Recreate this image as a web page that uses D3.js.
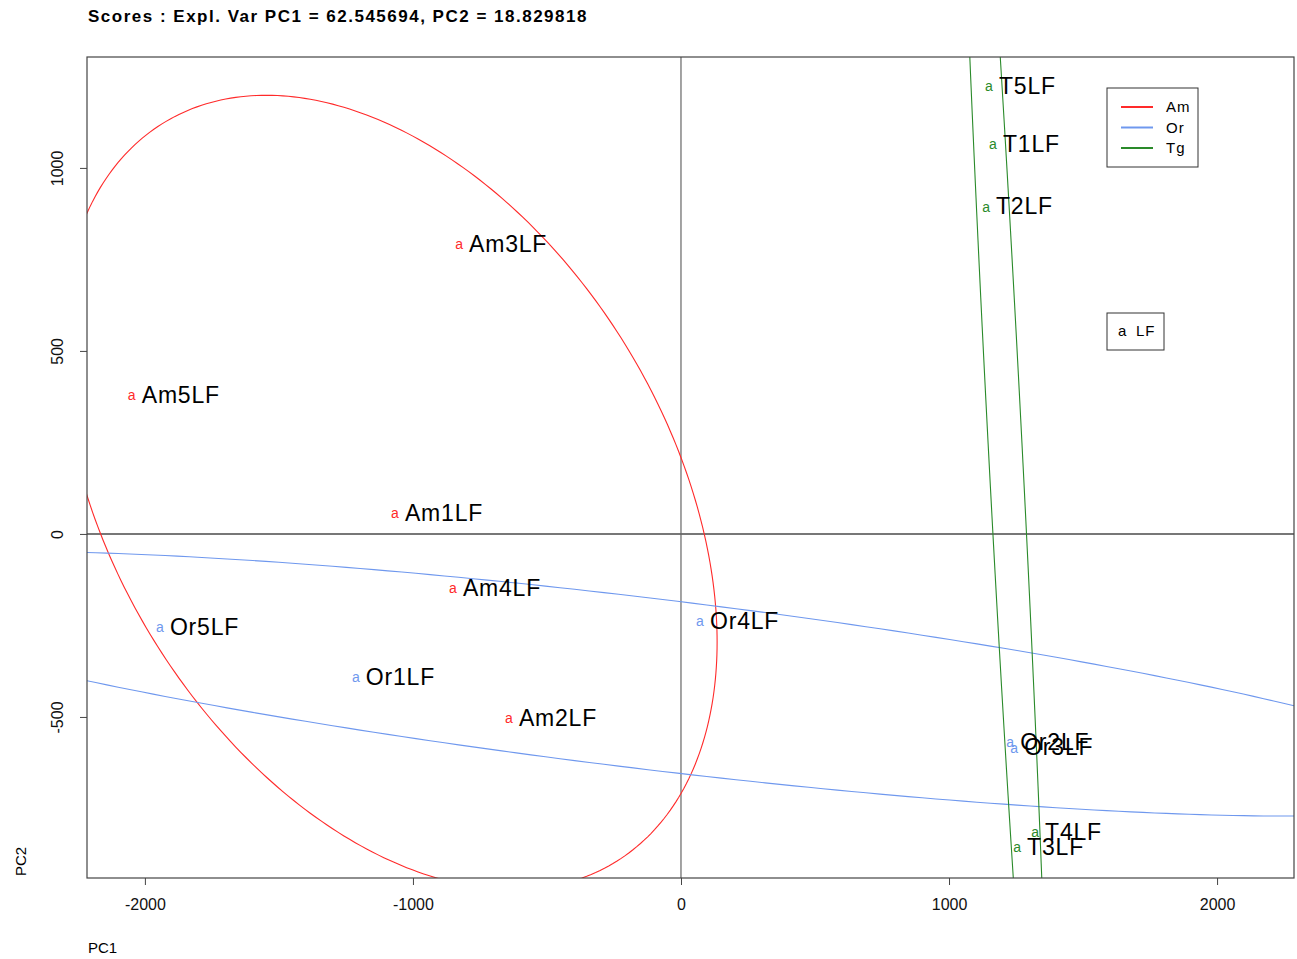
<!DOCTYPE html>
<html>
<head>
<meta charset="utf-8">
<script src="https://cdn.jsdelivr.net/npm/d3@7"></script>
<style>
  body { margin: 0; background: #fff; }
  text { font-family: "Liberation Sans", Arial, sans-serif; }
</style>
</head>
<body>
<div id="chart"></div>
<script>
// scores
const samples = ["Am1LF", "Am2LF", "Am3LF", "Am4LF", "Am5LF",
                 "Or1LF", "Or2LF", "Or3LF", "Or4LF", "Or5LF",
                 "T1LF", "T2LF", "T3LF", "T4LF", "T5LF"];
const groups = ["Am", "Am", "Am", "Am", "Am",
                "Or", "Or", "Or", "Or", "Or",
                "Tg", "Tg", "Tg", "Tg", "Tg"];
const pc1 = [-1067, -642, -828, -851, -2049,
             -1213, 1228, 1243, 71, -1944,
             1164, 1138, 1254, 1321, 1149];
const pc2 = [55, -505, 790, -150, 377,
             -393, -571, -585, -240, -257,
             1063, 893, -858, -817, 1221];
const groupNames = ["Am", "Or", "Tg"];
const groupColors = ["#ff2a2a", "#6f98ee", "#2a8a2a"];
const xTicks = [-2000, -1000, 0, 1000, 2000];
const yTicks = [-500, 0, 500, 1000];
const title = "Scores : Expl. Var PC1 = 62.545694, PC2 = 18.829818";

var W = 1297, H = 959;
var margin = { top: 57, right: 3, bottom: 81, left: 87 },
    width = W - margin.left - margin.right,
    height = H - margin.top - margin.bottom;

var x = d3.scaleLinear().domain([-2216, 2287]).range([0, width]);
var y = d3.scaleLinear().domain([-940, 1303]).range([height, 0]);
var color = d3.scaleOrdinal().domain(groupNames).range(groupColors);

var svg = d3.select("#chart").append("svg")
    .attr("width", W)
    .attr("height", H);

svg.append("text")
    .attr("x", 88).attr("y", 22)
    .attr("font-size", 17).attr("font-weight", "bold")
    .attr("letter-spacing", 1.5)
    .text(title);

var g = svg.append("g")
    .attr("transform", "translate(" + margin.left + "," + margin.top + ")");

g.append("clipPath").attr("id", "clip")
  .append("rect").attr("width", width).attr("height", height);

var plot = g.append("g").attr("clip-path", "url(#clip)");

// zero lines
plot.append("line")
    .attr("x1", 0).attr("x2", width)
    .attr("y1", y(0)).attr("y2", y(0))
    .attr("stroke", "#777").attr("stroke-width", 2);
plot.append("line")
    .attr("x1", x(0)).attr("x2", x(0))
    .attr("y1", 0).attr("y2", height)
    .attr("stroke", "#666").attr("stroke-width", 1.2);

// 95% ellipses from each group's covariance
var k = Math.sqrt(5.991);
var line = d3.line().x(function (d) { return x(d[0]); }).y(function (d) { return y(d[1]); });
groupNames.forEach(function (gn) {
    var idx = d3.range(samples.length).filter(function (i) { return groups[i] === gn; });
    var xs = idx.map(function (i) { return pc1[i]; }),
        ys = idx.map(function (i) { return pc2[i]; });
    var mx = d3.mean(xs), my = d3.mean(ys);
    var vx = d3.mean(xs, function (v) { return (v - mx) * (v - mx); }),
        vy = d3.mean(ys, function (v) { return (v - my) * (v - my); }),
        cxy = d3.mean(idx, function (i) { return (pc1[i] - mx) * (pc2[i] - my); });
    var sx = Math.sqrt(vx), sy = Math.sqrt(vy), r = cxy / (sx * sy);
    var pts = d3.range(0, 361, 1).map(function (a) {
        var t = a * Math.PI / 180;
        return [mx + k * sx * Math.cos(t),
                my + k * sy * (r * Math.cos(t) + Math.sqrt(1 - r * r) * Math.sin(t))];
    });
    plot.append("path")
        .attr("d", line(pts))
        .attr("fill", "none")
        .attr("stroke", color(gn))
        .attr("stroke-width", 1.1);
});

// points drawn as "a" glyphs plus labels
var pts = plot.selectAll(".pt").data(d3.range(samples.length)).enter().append("g")
    .attr("transform", function (i) { return "translate(" + x(pc1[i]) + "," + y(pc2[i]) + ")"; });
pts.append("text")
    .attr("text-anchor", "middle").attr("dy", "0.32em")
    .attr("font-size", 14)
    .attr("fill", function (i) { return color(groups[i]); })
    .text("a");
pts.append("text")
    .attr("x", 10).attr("dy", "0.30em")
    .attr("font-size", 23).attr("letter-spacing", 0.8)
    .attr("fill", "#000")
    .text(function (i) { return samples[i]; });

// frame
g.append("rect")
    .attr("width", width).attr("height", height)
    .attr("fill", "none").attr("stroke", "#444").attr("stroke-width", 1.2);

// axes
var fmt = function (d) { return String(d); };
var xAxis = g.append("g")
    .attr("transform", "translate(0," + height + ")")
    .call(d3.axisBottom(x).tickValues(xTicks).tickSize(7).tickPadding(14).tickFormat(fmt));
var yAxis = g.append("g")
    .call(d3.axisLeft(y).tickValues(yTicks).tickSize(7).tickFormat(fmt));
[xAxis, yAxis].forEach(function (a) {
    a.select(".domain").remove();
    a.selectAll("line").attr("stroke", "#444");
    a.selectAll("text").attr("font-size", 16).attr("font-family", "Liberation Sans, Arial, sans-serif")
        .attr("fill", "#111");
});
yAxis.selectAll(".tick text")
    .attr("transform", "rotate(-90)")
    .attr("x", 0).attr("y", -29)
    .attr("dy", "0.32em")
    .attr("text-anchor", "middle");

svg.append("text")
    .attr("x", 88).attr("y", 953)
    .attr("font-size", 15).text("PC1");
svg.append("text")
    .attr("transform", "translate(26,876) rotate(-90)")
    .attr("font-size", 15).text("PC2");

// group legend
var leg = svg.append("g").attr("transform", "translate(1107,88)");
leg.append("rect").attr("width", 91).attr("height", 79)
    .attr("fill", "#fff").attr("stroke", "#333");
groupNames.forEach(function (gn, i) {
    leg.append("line")
        .attr("x1", 14).attr("x2", 46)
        .attr("y1", 19 + i * 20.5).attr("y2", 19 + i * 20.5)
        .attr("stroke", color(gn)).attr("stroke-width", 2);
    leg.append("text")
        .attr("x", 59).attr("y", 19 + i * 20.5).attr("dy", "0.35em")
        .attr("font-size", 15).attr("letter-spacing", 1).text(gn);
});

// symbol legend
var leg2 = svg.append("g").attr("transform", "translate(1107,313)");
leg2.append("rect").attr("width", 57).attr("height", 37)
    .attr("fill", "#fff").attr("stroke", "#333");
leg2.append("text").attr("x", 11).attr("y", 18).attr("dy", "0.35em")
    .attr("font-size", 15).text("a");
leg2.append("text").attr("x", 29).attr("y", 18).attr("dy", "0.35em")
    .attr("font-size", 15).attr("letter-spacing", 1).text("LF");
</script>
</body>
</html>
